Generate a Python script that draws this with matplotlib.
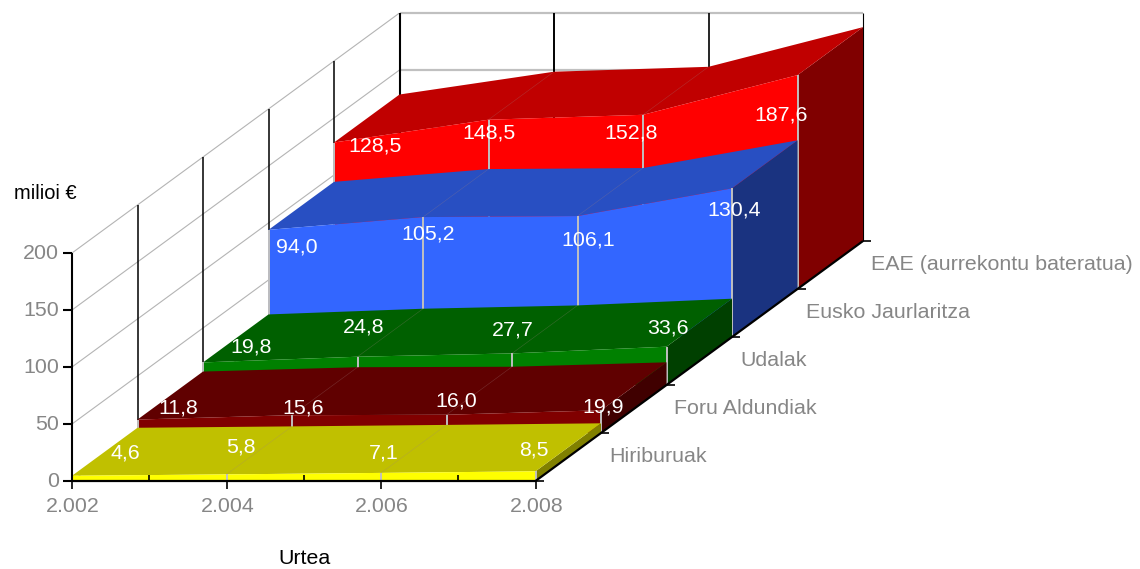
import matplotlib
matplotlib.use("Agg")
import matplotlib.pyplot as plt
from matplotlib.patches import Polygon

plt.rcParams["font.family"] = ["Liberation Sans", "DejaVu Sans"]

years = [2002, 2004, 2006, 2008]
all_years = [2002, 2003, 2004, 2005, 2006, 2007, 2008]
y_ticks = [0, 50, 100, 150, 200]

# front to back
series_names = [
    "Hiriburuak",
    "Foru Aldundiak",
    "Udalak",
    "Eusko Jaurlaritza",
    "EAE (aurrekontu bateratua)",
]
hiriburuak = [4.6, 5.8, 7.1, 8.5]
foru = [11.8, 15.6, 16.0, 19.9]
udalak = [19.8, 24.8, 27.7, 33.6]
eusko = [94.0, 105.2, 106.1, 130.4]
eae = [128.5, 148.5, 152.8, 187.6]
series_values = [hiriburuak, foru, udalak, eusko, eae]

# front, top, side
colors = [
    ("#FFFF00", "#C0C000", "#808000"),
    ("#800000", "#600000", "#400000"),
    ("#008000", "#006000", "#004000"),
    ("#3366FF", "#284FC2", "#1A3380"),
    ("#FF0000", "#C00000", "#800000"),
]

# where each value label sits relative to its point, in pixels
label_nudges = [
    [(53, -23), (14.5, -27), (3, -20), (-1.5, -21)],
    [(41, -12), (11, -7), (10, -14), (2, -3)],
    [(48, -15), (6, -30), (1, -23), (1, -19)],
    [(28, 17), (5, 17), (11, 24), (2, 22)],
    [(41, 3.5), (0, 13), (-12, 18), (-16, 40)],
]

GREY_TEXT = "#868686"
SEAM = "#C0C0C0"
FONT = 15.4


def project(year, value, depth):
    # oblique projection of the chart box to pixels
    x = 72 + (year - 2002) * 77.25 + depth * 65.5
    y = 481 - value * 1.14 - depth * 48
    return x, y


def fmt_year(y):
    return f"{y:,}".replace(",", ".")


def fmt_value(v):
    return f"{v:.1f}".replace(".", ",")


def line(ax, p0, p1, color="black", lw=1.0, zorder=2, alpha=None):
    ax.plot(
        [p0[0], p1[0]],
        [p0[1], p1[1]],
        color=color,
        linewidth=lw,
        solid_capstyle="butt",
        zorder=zorder,
        alpha=alpha,
    )


fig = plt.figure(figsize=(11.4, 5.69), dpi=100)
ax = fig.add_axes([0, 0, 1, 1])
ax.set_xlim(0, 1140)
ax.set_ylim(569, 0)
ax.axis("off")

n = len(series_names)

# Walls
for t in y_ticks:
    line(ax, project(2002, t, 0), project(2002, t, n), color="#B4B4B4", lw=0.8, zorder=1)
    line(ax, project(2002, t, n), project(2008, t, n), color=SEAM, lw=1.6, zorder=1)
for d in range(1, n + 1):
    line(ax, project(2002, 0, d), project(2002, 200, d), lw=1.5 if d == n else 1.1, zorder=1.5)
for yr, lw in zip(years[1:], [1.4, 1.2, 0.8]):
    line(ax, project(yr, 0, n), project(yr, 200, n), lw=lw, zorder=1.5)

# Areas, painted back to front
for d in range(n - 1, -1, -1):
    vals = series_values[d]
    front_c, top_c, side_c = colors[d]
    z = 3 + (n - d)

    side = [
        project(years[-1], 0, d),
        project(years[-1], vals[-1], d),
        project(years[-1], vals[-1], d + 1),
        project(years[-1], 0, d + 1),
    ]
    ax.add_patch(Polygon(side, closed=True, facecolor=side_c, edgecolor="none", zorder=z))

    top = [project(yr, v, d) for yr, v in zip(years, vals)]
    top += [project(yr, v, d + 1) for yr, v in zip(years[::-1], vals[::-1])]
    ax.add_patch(Polygon(top, closed=True, facecolor=top_c, edgecolor="none", zorder=z))

    front = [project(years[0], 0, d)]
    front += [project(yr, v, d) for yr, v in zip(years, vals)]
    front += [project(years[-1], 0, d)]
    ax.add_patch(Polygon(front, closed=True, facecolor=front_c, edgecolor="none", zorder=z))

    for yr, v in zip(years, vals):
        line(ax, project(yr, 0, d), project(yr, v, d), color=SEAM, lw=1.4, zorder=z + 0.1)
        if yr != years[0] and yr != years[-1]:
            line(ax, project(yr, v, d), project(yr, v, d + 1), color="#A08080", lw=0.4, zorder=z + 0.1, alpha=0.35)

# Axes lines and ticks
top_z = 20
line(ax, project(2002, 0, 0), project(2002, 200, 0), lw=1.5, zorder=top_z)
line(ax, project(2002, 0, 0), project(2008, 0, 0), lw=1.6, zorder=top_z)
line(ax, project(2008, 0, 0), project(2008, 0, n), lw=1.6, zorder=top_z)

for t in y_ticks:
    x, y = project(2002, t, 0)
    line(ax, (x - 9, y), (x, y), lw=1.5, zorder=top_z)
    ax.text(x - 13, y, str(t), ha="right", va="center", fontsize=FONT, color=GREY_TEXT, zorder=top_z)

for yr in all_years:
    x, y = project(yr, 0, 0)
    if yr in years:
        line(ax, (x, y), (x, y + 8), lw=1.2, zorder=top_z)
        ax.text(x + 1, y + 26, fmt_year(yr), ha="center", va="center", fontsize=FONT, color=GREY_TEXT, zorder=top_z)
    else:
        line(ax, (x, y - 6), (x, y), lw=1.2, zorder=top_z)

for d in range(n + 1):
    x, y = project(2008, 0, d)
    line(ax, (x, y), (x + 8, y), lw=1.2, zorder=top_z)
    if d < n:
        ax.text(x + 73.5, y - 25, series_names[d], ha="left", va="center", fontsize=FONT, color=GREY_TEXT, zorder=top_z)

# Value labels
for d in range(n):
    for yr, v, (dx, dy) in zip(years, series_values[d], label_nudges[d]):
        x, y = project(yr, v, d)
        ax.text(x + dx, y + dy, fmt_value(v), ha="center", va="center", fontsize=FONT, color="white", zorder=top_z + 1)

ax.text(14, 193, "milioi €", ha="left", va="center", fontsize=14.4, color="black")
ax.text(278, 558, "Urtea", ha="left", va="center", fontsize=FONT, color="black")

fig.savefig("out.png", dpi=100)
